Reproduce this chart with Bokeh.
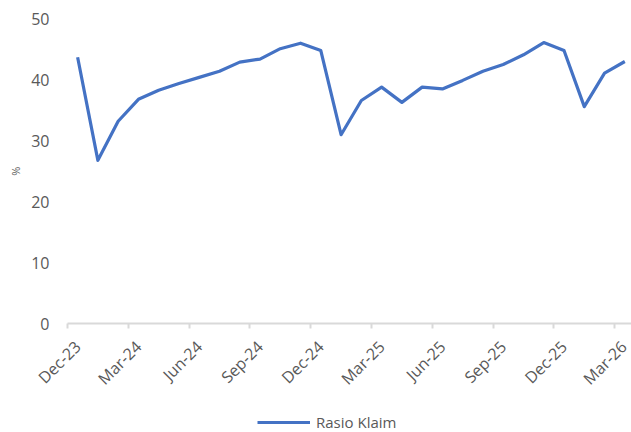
import math
import numpy as np
from bokeh.plotting import figure
from bokeh.models import FixedTicker, Legend, LegendItem, Range1d, Label
from bokeh.embed import file_html
from bokeh.resources import INLINE

# ---- data ----
months = ["Dec-23", "Jan-24", "Feb-24", "Mar-24", "Apr-24", "May-24", "Jun-24",
          "Jul-24", "Aug-24", "Sep-24", "Oct-24", "Nov-24", "Dec-24",
          "Jan-25", "Feb-25", "Mar-25", "Apr-25", "May-25", "Jun-25",
          "Jul-25", "Aug-25", "Sep-25", "Oct-25", "Nov-25", "Dec-25",
          "Jan-26", "Feb-26", "Mar-26"]
rasio_klaim = [43.7, 26.8, 33.2, 36.8, 38.3, 39.4, 40.4, 41.4, 42.9, 43.4, 45.1, 46.0,
               44.8, 31.0, 36.6, 38.8, 36.3, 38.8, 38.5, 39.9, 41.4, 42.5, 44.1, 46.1,
               44.8, 35.6, 41.1, 43.0]
y_ticks = [0, 10, 20, 30, 40, 50]
label_every = 3
series_name = "Rasio Klaim"
y_label = "%"

FONT = "Open Sans"
GREY = "#595959"
AXIS_GREY = "#d9d9d9"
BLUE = "#4472C4"

n = len(months)
xs = [i + 0.5 for i in range(n)]  # category centres

p = figure(width=631, height=432, output_backend="svg", toolbar_location=None,
           x_range=Range1d(-3.305, 27.83), y_range=Range1d(-17.82, 53.0),
           min_border_left=0, min_border_right=0, min_border_top=0,
           min_border_bottom=0)
p.outline_line_color = None
p.xgrid.grid_line_color = None
p.ygrid.grid_line_color = None

r = p.line(xs, rasio_klaim, line_color=BLUE, line_width=3.2, line_join="round")

# x axis: drawn at y=0, labels at category centres, tick marks at boundaries
label_idx = list(range(0, n, label_every))
p.xaxis.fixed_location = 0
p.xaxis.bounds = (0, n)
p.xaxis.ticker = FixedTicker(ticks=[i + 0.5 for i in label_idx],
                             minor_ticks=[float(i) for i in label_idx])
p.xaxis.major_label_overrides = {i + 0.5: months[i] for i in label_idx}
p.xaxis.major_label_orientation = math.pi / 4
p.xaxis.major_tick_out = 0
p.xaxis.major_tick_in = 0
p.xaxis.minor_tick_out = 5
p.xaxis.minor_tick_in = 0
p.xaxis.minor_tick_line_color = AXIS_GREY
p.xaxis.minor_tick_line_width = 2
p.xaxis.axis_line_color = AXIS_GREY
p.xaxis.axis_line_width = 2
p.xaxis.major_label_text_font = FONT
p.xaxis.major_label_text_font_size = "16px"
p.xaxis.major_label_text_color = GREY
p.xaxis.major_label_standoff = 15

# y axis: drawn at x=0 (left edge of the category axis)
p.yaxis.fixed_location = 0
p.yaxis.ticker = FixedTicker(ticks=y_ticks)
p.yaxis.axis_line_color = None
p.yaxis.major_tick_out = 0
p.yaxis.major_tick_in = 0
p.yaxis.minor_tick_out = 0
p.yaxis.minor_tick_in = 0
p.yaxis.major_label_text_font = FONT
p.yaxis.major_label_text_font_size = "16px"
p.yaxis.major_label_text_color = GREY
p.yaxis.major_label_standoff = 18

p.add_layout(Label(x=-2.57, y=25, text=y_label, angle=math.pi / 2,
                   text_align="center", text_baseline="middle",
                   text_font=FONT, text_font_size="11px", text_color=GREY))

legend = Legend(items=[LegendItem(label=series_name, renderers=[r])],
                location=(257, 0), orientation="horizontal",
                glyph_width=53, glyph_height=18, label_standoff=6,
                padding=0, margin=0, border_line_color=None,
                background_fill_alpha=0,
                label_text_font=FONT, label_text_font_size="15px",
                label_text_color=GREY)
p.add_layout(legend, "center")

open("out.html", "w").write(file_html(p, INLINE))
